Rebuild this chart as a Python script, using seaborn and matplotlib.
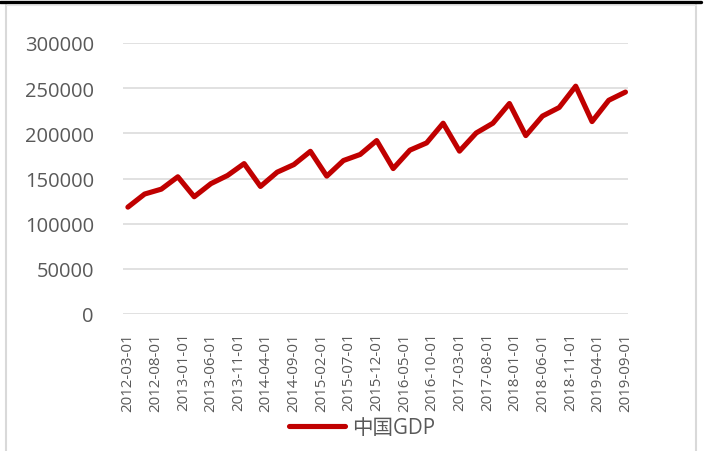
import matplotlib
matplotlib.use("Agg")
import matplotlib.pyplot as plt
import matplotlib.dates as mdates
from matplotlib.lines import Line2D
import seaborn as sns
import pandas as pd

# ---- data ----
dates = pd.date_range("2012-03-01", "2019-09-01", freq="QS-MAR")
gdp = [118300, 132800, 138200, 151900,
       129800, 144300, 153400, 166500,
       141200, 157000, 165400, 180100,
       152600, 169900, 176600, 192000,
       161000, 181400, 189400, 211200,
       180300, 200400, 211200, 233000,
       197500, 219100, 228600, 252200,
       213000, 236600, 245700]
series_name = "中国GDP"
yticks = [0, 50000, 100000, 150000, 200000, 250000, 300000]
xtick_dates = pd.date_range("2012-03-01", "2019-09-01", freq="5MS")

df = pd.DataFrame({"date": dates, "value": gdp, "series": series_name})

sns.set_theme(style="white")
plt.rcParams["font.family"] = ["Open Sans", "Noto Sans CJK SC", "DejaVu Sans"]

W, H = 707, 452
fig = plt.figure(figsize=(W / 100, H / 100), dpi=100)
ax = fig.add_axes([123 / W, 1 - 315 / H, 505 / W, 271 / H])

sns.lineplot(data=df, x="date", y="value", hue="series", palette=["#C00000"],
             linewidth=3.7, ax=ax, solid_capstyle="round", solid_joinstyle="round")

ax.set_ylim(0, 300000)
ax.set_yticks(yticks)
ax.set_yticklabels([str(v) for v in yticks])
ax.set_xlim(dates[0] - pd.Timedelta(days=27), dates[-1] + pd.Timedelta(days=14))
ax.set_xticks(xtick_dates)
ax.set_xticklabels([d.strftime("%Y-%m-%d") for d in xtick_dates], rotation=90)

ax.grid(axis="y", color="#D9D9D9", linewidth=1.1)
ax.grid(axis="x", visible=False)
for s in ax.spines.values():
    s.set_visible(False)
ax.tick_params(axis="y", length=0, pad=21, labelsize=14.5, labelcolor="#595959")
ax.tick_params(axis="x", length=0, pad=13, labelsize=10.8, labelcolor="#595959")
ax.set_xlabel("")
ax.set_ylabel("")

ax.get_legend().remove()
handles = [Line2D([0], [0], color="#C00000", linewidth=3.7, solid_capstyle="round")]
fig.legend(handles, [series_name], loc="center", bbox_to_anchor=(362 / W, 1 - 429 / H),
           frameon=False, fontsize=14.8, labelcolor="#595959",
           handlelength=2.7, handletextpad=0.35)

# chart frame
fig.add_artist(Line2D([5.5 / W, 5.5 / W], [0, 1 - 6 / H], color="#D9D9D9", linewidth=1.5,
                      transform=fig.transFigure))
fig.add_artist(Line2D([695.5 / W, 695.5 / W], [0, 1 - 6 / H], color="#D9D9D9", linewidth=1.5,
                      transform=fig.transFigure))
fig.add_artist(Line2D([5.5 / W, 695.5 / W], [1 - 6 / H, 1 - 6 / H], color="#E6E6E6", linewidth=0.8,
                      transform=fig.transFigure))
fig.add_artist(Line2D([0, 701 / W], [1 - 3 / H, 1 - 3 / H], color="black", linewidth=2.4,
                      transform=fig.transFigure))

fig.savefig("out.png", dpi=100)
